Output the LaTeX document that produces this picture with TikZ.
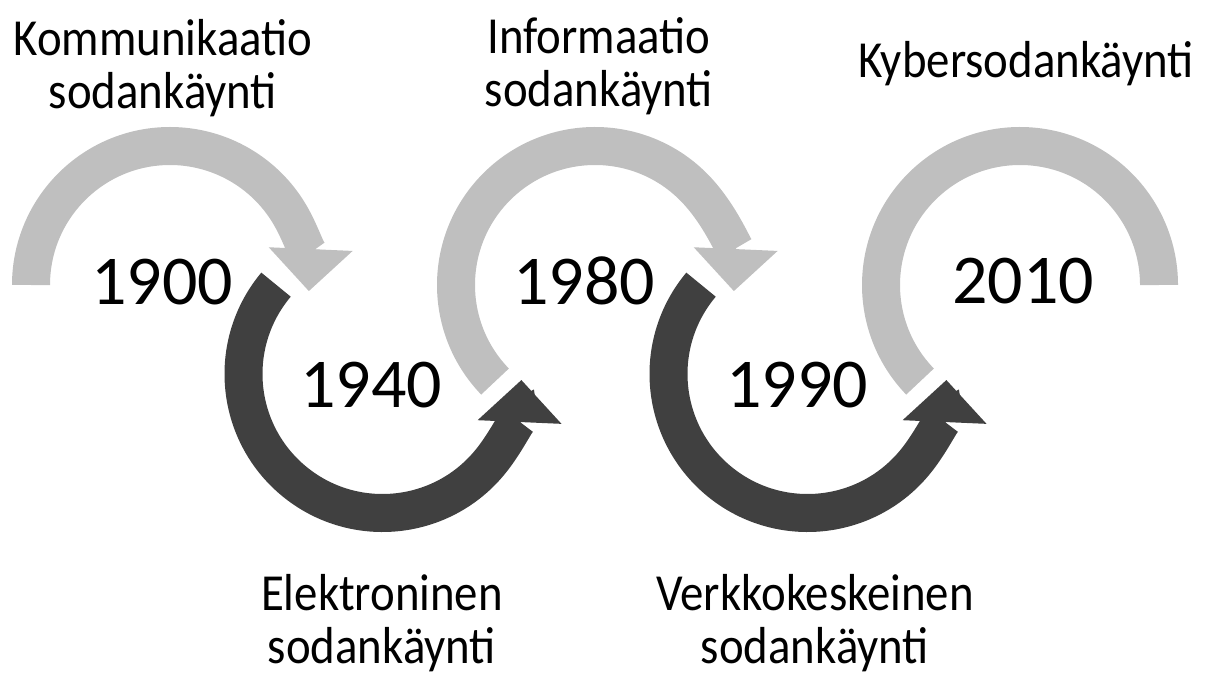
\documentclass[tikz,border=0pt]{standalone}
\usepackage{fontspec}
\setmainfont{Carlito}
\newfontfamily\erafamily[FakeStretch=0.9]{Carlito}
\usetikzlibrary{arrows.meta}
\definecolor{arclight}{HTML}{BFBFBF}
\definecolor{arcdark}{HTML}{404040}

\begin{document}
\begin{tikzpicture}[
  lightarc/.style={draw=arclight, line width=3.8mm},
  darkarc/.style={draw=arcdark, line width=3.8mm},
  head/.style={-{Triangle[length=4.2mm, width=8.4mm, line width=0pt]}},
  year/.style={font=\fontsize{19.9}{24}\selectfont, inner sep=0pt},
  era/.style={font=\erafamily\fontsize{14.8}{14.8}\selectfont, align=center, anchor=base, inner sep=0pt}
]
\useasboundingbox (0,0) rectangle (12.16,6.75);

\coordinate (c1) at (1.70,3.90);
\coordinate (c2) at (3.825,3.01);
\coordinate (c3) at (5.95,3.90);
\coordinate (c4) at (8.075,3.01);
\coordinate (c5) at (10.20,3.90);

\draw[lightarc, head] ([shift={(180:1.39)}]c1) arc[start angle=180, end angle=-2.5, radius=1.39];
\draw[darkarc, head] ([shift={(140:1.39)}]c2) arc[start angle=140, end angle=357.5, radius=1.39];
\draw[lightarc, head] ([shift={(224:1.39)}]c3) arc[start angle=224, end angle=-2.5, radius=1.39];
\draw[darkarc, head] ([shift={(140:1.39)}]c4) arc[start angle=140, end angle=357.5, radius=1.39];
\draw[lightarc] ([shift={(224:1.39)}]c5) arc[start angle=224, end angle=0, radius=1.39];

\node[year] (y1900) at (1.62,3.93) {1900};
\node[year] (y1940) at (3.71,2.90) {1940};
\node[year] (y1980) at (5.84,3.94) {1980};
\node[year] (y1990) at (7.97,2.90) {1990};
\node[year] (y2010) at (10.23,3.94) {2010};

% base anchor sits on the last line
\node[era] (komm) at (1.63,5.67) {Kommunikaatio\\sodankäynti};
\node[era] (info) at (5.99,5.69) {Informaatio\\sodankäynti};
\node[era] (kyber) at (10.26,5.97) {Kybersodankäynti};
\node[era] (elek) at (3.82,0.12) {Elektroninen\\sodankäynti};
\node[era] (verkko) at (8.15,0.12) {Verkkokeskeinen\\sodankäynti};
\end{tikzpicture}
\end{document}
